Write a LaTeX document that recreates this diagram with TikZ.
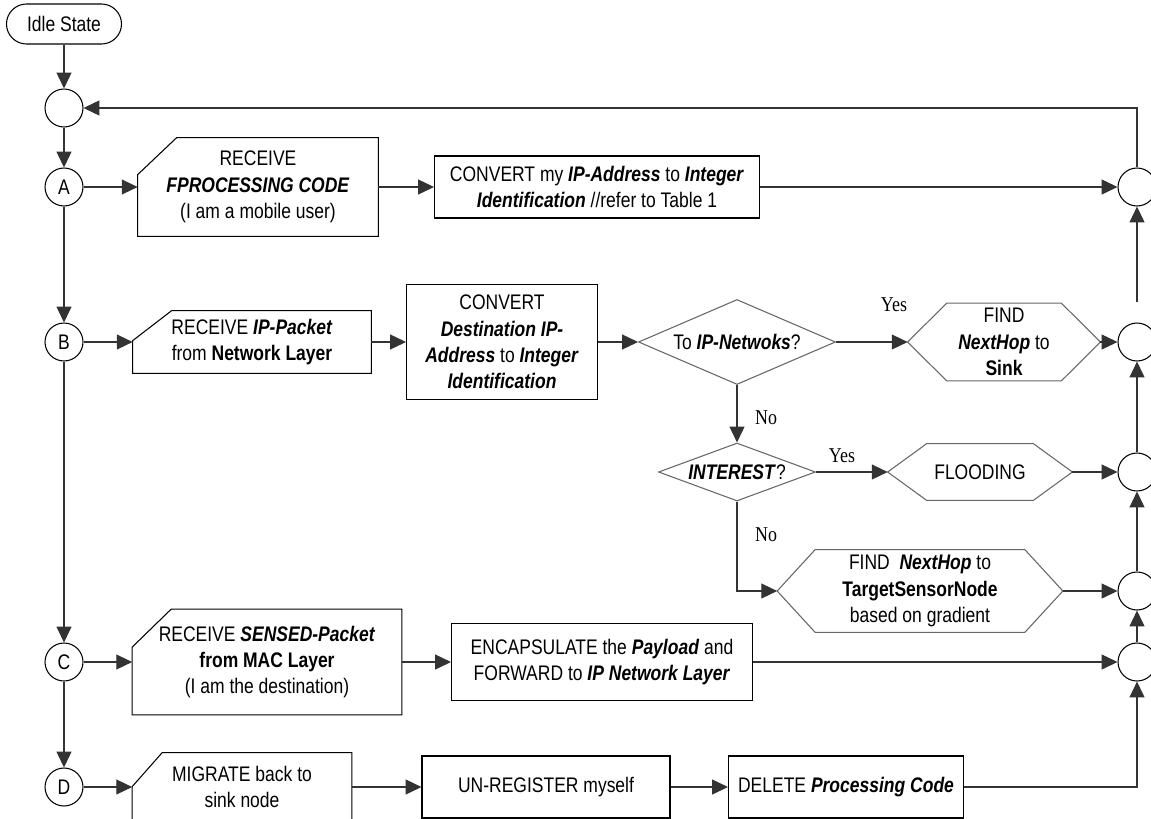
\documentclass[tikz,border=0pt]{standalone}
\usepackage{fontspec}
\setmainfont{Liberation Sans}[FakeStretch=0.83]
\newfontfamily\answerfont{Liberation Serif}[FakeStretch=0.85]
\usetikzlibrary{arrows.meta,calc,shapes.geometric}
\newcommand{\bfit}[1]{\textbf{\textit{#1}}}
\tikzset{
  flow/.style = {draw=black!80, line width=0.6pt,
                 -{Triangle[length=9pt,width=8.5pt]}},
  txt/.style = {inner sep=0pt, align=center,
                font=\fontsize{12}{15}\selectfont},
  junction/.style = {txt, circle, draw, line width=0.6pt,
                     minimum size=#1},
  junction/.default = 0.76cm,
  procbox/.style = {txt, rectangle, draw, line width=0.6pt},
  card/.style = {txt, rectangle},
  hexa/.style = {txt, rectangle},
  decision/.style = {txt, diamond, draw=black!60, line width=0.6pt},
  answer/.style = {inner sep=0pt, font=\answerfont\fontsize{12}{14}\selectfont}
}
\newcommand{\cardframe}[3]{\draw[line width=0.6pt] (#1.south west) -- ($(#1.north west)+(0,#3)$)
  -- ($(#1.north west)+(#2,0)$) -- (#1.north east) -- (#1.south east) -- cycle;}
\newcommand{\hexframe}[2]{\draw[draw=black!60, line width=0.6pt] (#1.west) -- ($(#1.north west)+(#2,0)$)
  -- ($(#1.north east)+(-#2,0)$) -- (#1.east) -- ($(#1.south east)+(-#2,0)$)
  -- ($(#1.south west)+(#2,0)$) -- cycle;}

\begin{document}
\begin{tikzpicture}[x=0.02cm, y=-0.02cm]
	\def\pix{0.02cm}
	\useasboundingbox (0,0) rectangle (1151,818);
	\clip (0,0) rectangle (1151,818);
	\fill[white] (0,0) rectangle (1151,818);

	% Left column
	\node[txt, draw, line width=0.6pt, rounded corners=0.4cm, minimum width=115*\pix, minimum height=40*\pix] (idle) at (64,24) {Idle State};
	\node[junction] (J0) at (64,108) {};
	\node[junction] (A) at (64,187) {A};
	\node[junction] (B) at (64,342) {B};
	\node[junction] (C) at (64,662) {C};
	\node[junction] (D) at (64,787) {D};

	% Right column
	\node[junction] (R1) at (1137,187) {};
	\node[junction] (R2) at (1137,342) {};
	\node[junction] (R3) at (1137,472) {};
	\node[junction] (R4) at (1137,591) {};
	\node[junction] (R5) at (1137,662) {};

	% Row A
	\node[card, minimum width=240*\pix, minimum height=98*\pix] (rA) at (258,187) {RECEIVE\\ \bfit{FPROCESSING CODE}\\ (I am a mobile user)};
	\cardframe{rA}{39}{37}
	\node[procbox, minimum width=325*\pix, minimum height=62*\pix] (cA) at (597,187) {CONVERT my \bfit{IP-Address} to \bfit{Integer}\\ \bfit{Identification} //refer to Table 1};

	% Row B
	\node[card, minimum width=238*\pix, minimum height=62*\pix] (rB) at (252,342) {RECEIVE \bfit{IP-Packet}\\ from \textbf{Network Layer}};
	\cardframe{rB}{39}{30}
	\node[procbox, minimum width=191*\pix, minimum height=115*\pix] (cB) at (502,342) {CONVERT\\ \bfit{Destination IP-}\\ \bfit{Address} to \bfit{Integer}\\ \bfit{Identification}};
	\node[decision, aspect=2.3, minimum width=197*\pix, minimum height=85*\pix] (q1) at (737,342) {To \bfit{IP-Netwoks}?};
	\node[hexa, minimum width=192*\pix, minimum height=77*\pix] (hS) at (1004,342) {FIND\\ \bfit{NextHop} to\\ \textbf{Sink}};
	\hexframe{hS}{39}
	\node[decision, aspect=2.7, minimum width=157*\pix, minimum height=58*\pix] (q2) at (737,472) {\bfit{INTEREST}?};
	\node[hexa, minimum width=184*\pix, minimum height=56*\pix] (hF) at (980,472) {FLOODING};
	\hexframe{hF}{39}
	\node[hexa, minimum width=285*\pix, minimum height=82*\pix] (hT) at (920,591) {FIND\ \ \bfit{NextHop} to\\ \textbf{TargetSensorNode}\\ based on gradient};
	\hexframe{hT}{38}

	% Row C
	\node[card, minimum width=269*\pix, minimum height=105*\pix] (rC) at (267,662) {RECEIVE \bfit{SENSED-Packet}\\ \textbf{from MAC Layer}\\ (I am the destination)};
	\cardframe{rC}{39}{38}
	\node[procbox, minimum width=301*\pix, minimum height=77*\pix] (eC) at (602,662) {ENCAPSULATE the \bfit{Payload} and\\ FORWARD to \bfit{IP Network Layer}};

	% Row D
	\node[card, minimum width=219*\pix, minimum height=68*\pix] (rD) at (242,787) {MIGRATE back to\\ sink node};
	\cardframe{rD}{30}{34}
	\node[procbox, minimum width=248*\pix, minimum height=62*\pix] (uD) at (546,787) {UN-REGISTER myself};
	\node[procbox, minimum width=235*\pix, minimum height=62*\pix] (dD) at (846,787) {DELETE \bfit{Processing Code}};

	% Yes / No
	\node[answer] (yes1) at (894,305) {Yes};
	\node[answer] (no1) at (766,418) {No};
	\node[answer] (yes2) at (842,456) {Yes};
	\node[answer] (no2) at (766,535) {No};

	% Connectors, left column
	\draw[flow] (idle) -- (J0);
	\draw[flow] (J0) -- (A);
	\draw[flow] (A) -- (B);
	\draw[flow] (B) -- (C);
	\draw[flow] (C) -- (D);

	% Connectors, rows
	\draw[flow] (A) -- (rA);
	\draw[flow] (rA) -- (cA);
	\draw[flow] (cA) -- (R1);
	\draw[flow] (B) -- (rB);
	\draw[flow] (rB) -- (cB);
	\draw[flow] (cB) -- (q1);
	\draw[flow] (q1) -- (hS);
	\draw[flow] (hS) -- (R2);
	\draw[flow] (q1) -- (q2);
	\draw[flow] (q2) -- (hF);
	\draw[flow] (hF) -- (R3);
	\draw[flow] (q2) |- (hT);
	\draw[flow] (hT) -- (R4);
	\draw[flow] (C) -- (rC);
	\draw[flow] (rC) -- (eC);
	\draw[flow] (eC) -- (R5);
	\draw[flow] (D) -- (rD);
	\draw[flow] (rD) -- (uD);
	\draw[flow] (uD) -- (dD);
	\draw[flow] (dD) -| (R5);

	% Connectors, right column
	\draw[flow] (R5) -- (R4);
	\draw[flow] (R4) -- (R3);
	\draw[flow] (R3) -- (R2);
	\draw[flow, shorten <=0.4cm] (R2) -- (R1);
	\draw[flow] (R1) |- (J0);
\end{tikzpicture}
\end{document}
